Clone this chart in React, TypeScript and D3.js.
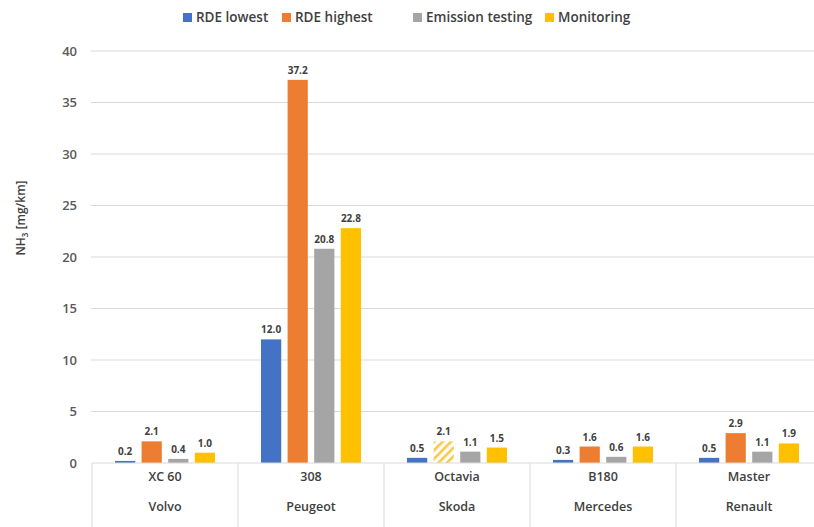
import React from "react";
import * as d3 from "d3";

const models = ["XC 60", "308", "Octavia", "B180", "Master"];
const makers = ["Volvo", "Peugeot", "Skoda", "Mercedes", "Renault"];
const seriesNames = ["RDE lowest", "RDE highest", "Emission testing", "Monitoring"];
const rdeLowest = [0.2, 12.0, 0.5, 0.3, 0.5];
const rdeHighest = [2.1, 37.2, 2.1, 1.6, 2.9];
const emissionTesting = [0.4, 20.8, 1.1, 0.6, 1.1];
const monitoring = [1.0, 22.8, 1.5, 1.6, 1.9];
const yTicks = [0, 5, 10, 15, 20, 25, 30, 35, 40];
const colors = ["#4472C4", "#ED7D31", "#A5A5A5", "#FFC000"];
// Octavia RDE highest drawn hatched
const hatched = [[1, 2]];

const W = 814;
const H = 527;
const font = "'Open Sans', Lato, sans-serif";

export default function App() {
  const series = [rdeLowest, rdeHighest, emissionTesting, monitoring];
  const x0 = d3.scaleBand<string>().domain(models).range([92, 822]).padding(0);
  const y = d3.scaleLinear().domain([0, 40]).range([463, 51]);
  const groupW = 100;
  const x1 = d3
    .scaleBand<number>()
    .domain([0, 1, 2, 3])
    .range([0, groupW])
    .paddingInner(0.24)
    .paddingOuter(0);
  const bw = x1.bandwidth();
  const isHatched = (s: number, c: number) => hatched.some(([hs, hc]) => hs === s && hc === c);

  const legendX = [183, 282, 413, 545];

  return (
    <svg width={W} height={H} style={{ position: "absolute", left: 0, top: 0, background: "#fff" }} fontFamily={font}>
      <defs>
        <pattern id="hatch" patternUnits="userSpaceOnUse" width="6" height="6" patternTransform="rotate(45)">
          <rect width="6" height="6" fill="#fff" />
          <rect width="2.6" height="6" fill="#F7C948" />
        </pattern>
      </defs>
      <rect width={W} height={H} fill="#fff" />
      {/* gridlines */}
      {yTicks.filter((t) => t > 0).map((t) => (
        <line key={t} x1={91} x2={W} y1={y(t)} y2={y(t)} stroke="#D9D9D9" strokeWidth={1} />
      ))}
      {/* y tick labels */}
      {yTicks.map((t) => (
        <text key={t} x={77} y={y(t)} dy="0.35em" textAnchor="end" fontSize={13} fontWeight={600} fill="#595959">
          {t}
        </text>
      ))}
      {/* y axis title */}
      <text transform={`translate(25,218) rotate(-90)`} textAnchor="middle" fontSize={12} fontWeight={600} fill="#404040">
        NH<tspan fontSize={8} dy={3}>3</tspan>
        <tspan dy={-3}> [mg/km]</tspan>
      </text>
      {/* bars */}
      {models.map((m, c) => {
        const gx = (x0(m) as number) + (x0.bandwidth() - groupW) / 2;
        return series.map((vals, s) => {
          const v = vals[c];
          const bx = gx + (x1(s) as number);
          return (
            <g key={`${c}-${s}`}>
              <rect
                x={bx}
                y={y(v)}
                width={bw}
                height={y(0) - y(v)}
                fill={isHatched(s, c) ? "url(#hatch)" : colors[s]}
              />
              <text
                x={bx + bw / 2}
                y={y(v) - 6}
                textAnchor="middle"
                fontSize={10}
                fontWeight="bold"
                fill="#404040"
              >
                {v.toFixed(1)}
              </text>
            </g>
          );
        });
      })}
      {/* baseline */}
      <line x1={92} x2={W} y1={y(0)} y2={y(0)} stroke="#D9D9D9" strokeWidth={1} />
      {/* category table separators */}
      {models.map((m) => (
        <line key={m} x1={x0(m) as number} x2={x0(m) as number} y1={y(0)} y2={H} stroke="#D9D9D9" strokeWidth={1} />
      ))}
      {/* category labels */}
      {models.map((m, i) => (
        <g key={m}>
          <text x={(x0(m) as number) + x0.bandwidth() / 2} y={481} textAnchor="middle" fontSize={12.5} fontWeight={600} fill="#404040">
            {m}
          </text>
          <text x={(x0(m) as number) + x0.bandwidth() / 2} y={511} textAnchor="middle" fontSize={12.5} fontWeight={600} fill="#404040">
            {makers[i]}
          </text>
        </g>
      ))}
      {/* legend */}
      {seriesNames.map((n, i) => (
        <g key={n}>
          <rect x={legendX[i]} y={13} width={9} height={9} fill={colors[i]} />
          <text x={legendX[i] + 13} y={17.5} dy="0.35em" fontSize={13.5} fontWeight={600} fill="#404040">
            {n}
          </text>
        </g>
      ))}
    </svg>
  );
}
